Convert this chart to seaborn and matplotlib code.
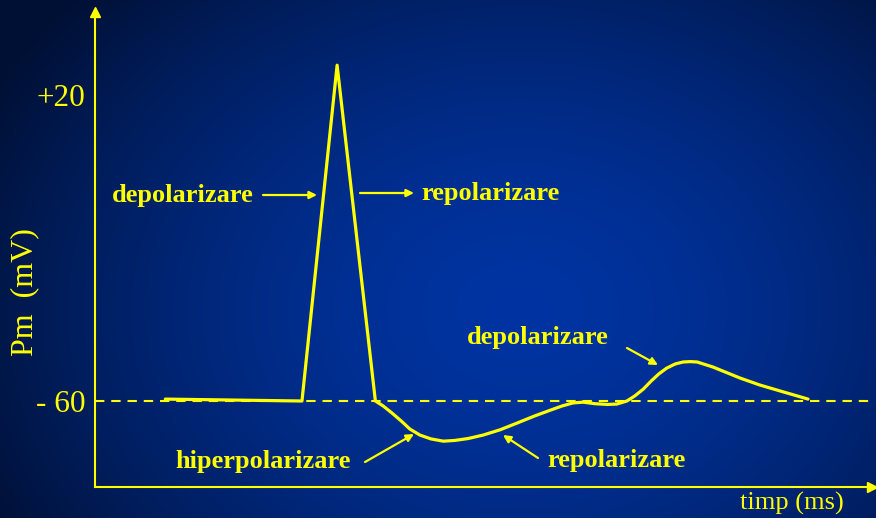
import numpy as np
import pandas as pd
import matplotlib
matplotlib.use("Agg")
import matplotlib.pyplot as plt
import seaborn as sns

# Membrane potential trace (time in arbitrary ms units, potential in mV)
time_ms = [0.90, 2.65, 3.10, 3.59, 3.69, 3.80, 3.92, 4.03, 4.16, 4.30, 4.46,
           4.61, 4.78, 4.97, 5.19, 5.40, 5.63, 5.83, 5.98, 6.12, 6.25, 6.40,
           6.56, 6.68, 6.81, 6.91, 7.02, 7.12, 7.22, 7.32, 7.43, 7.53, 7.62,
           7.71, 7.91, 8.26, 8.51, 8.81, 9.13]
pm_mv = [-59.5, -60.0, 27.8, -60.0, -61.3, -63.1, -65.2, -67.3, -68.9, -69.9,
         -70.5, -70.3, -69.8, -68.9, -67.5, -65.8, -63.9, -62.4, -61.3, -60.5,
         -60.3, -60.7, -60.9, -60.8, -60.0, -58.7, -56.9, -54.8, -52.9, -51.4,
         -50.3, -49.8, -49.7, -49.8, -51.1, -54.0, -55.8, -57.6, -59.5]

rest_mv = -60
tick_values = [20, -60]
tick_labels = ["+20", "- 60"]

YEL = "#ffff00"
SERIF = ["Liberation Serif", "DejaVu Serif"]

sns.set_theme(style="white")
plt.rcParams["font.family"] = SERIF

W, H = 876, 518
fig = plt.figure(figsize=(W / 100, H / 100), dpi=100)

# Background: radial blue gradient
bg = fig.add_axes([0, 0, 1, 1], zorder=0)
yy, xx = np.mgrid[0:H, 0:W]
d = np.sqrt(((xx - 520) / 600.0) ** 2 + ((yy - 310) / 470.0) ** 2)
d = np.clip(d, 0, 1) ** 1.6
center = np.array([0, 52, 162]) / 255.0
edge = np.array([0, 16, 52]) / 255.0
img = center[None, None, :] * (1 - d[..., None]) + edge[None, None, :] * d[..., None]
bg.imshow(img, aspect="auto", extent=[0, 1, 0, 1], origin="upper")
bg.set_axis_off()

# Plot area
left_px, right_px, bottom_px, top_px = 95, 876, 487, 12
ax = fig.add_axes([left_px / W, (H - bottom_px) / H,
                   (right_px - left_px) / W, (bottom_px - top_px) / H], zorder=1)
ax.patch.set_alpha(0)
ax.set_xlim(0, 10)
ax.set_ylim(-82.48, 41.70)

df = pd.DataFrame({"t": time_ms, "pm": pm_mv})
sns.lineplot(data=df, x="t", y="pm", ax=ax, sort=False, color=YEL,
             lw=2.3, solid_joinstyle="round", solid_capstyle="round")
ax.axhline(rest_mv, xmax=0.992, color=YEL, lw=1.5, ls=(0, (4.5, 3.3)))

for s in ["top", "right"]:
    ax.spines[s].set_visible(False)
for s in ["left", "bottom"]:
    ax.spines[s].set_color(YEL)
    ax.spines[s].set_linewidth(1.5)
ax.plot([0], [1], marker="^", ms=7, color=YEL, transform=ax.transAxes, clip_on=False)
ax.plot([0.995], [0], marker=">", ms=7, color=YEL, transform=ax.transAxes, clip_on=False)

ax.set_xticks([])
ax.set_yticks(tick_values)
ax.set_yticklabels(tick_labels, fontsize=22.5, color=YEL, family=SERIF)
ax.tick_params(axis="y", length=0, pad=7)
ax.set_xlabel("")
ax.set_ylabel("Pm  (mV)", fontsize=23, color=YEL, family=SERIF)
ax.yaxis.set_label_coords(-0.072, 0.41)

fig.text(792 / W, 1 - 503 / H, "timp (ms)", fontsize=19, color=YEL,
         family=SERIF, ha="center", va="center")


def px(x, y):
    return ((x - 95) / 78.1, -60 - (y - 401) / 3.825)


bold = dict(fontsize=19, color=YEL, fontweight="bold", family=SERIF, va="center")
arrow = dict(arrowstyle="-|>", color=YEL, lw=1.6, mutation_scale=11, shrinkA=0, shrinkB=0)

ax.text(*px(112, 195), "depolarizare", ha="left", **bold)
ax.annotate("", xy=px(317, 195), xytext=px(263, 195), arrowprops=arrow)
ax.annotate("", xy=px(414, 193), xytext=px(360, 193), arrowprops=arrow)
ax.text(*px(421, 193), "repolarizare", ha="left", **bold)

ax.text(*px(467, 337), "depolarizare", ha="left", **bold)
ax.annotate("", xy=px(658, 365), xytext=px(627, 348), arrowprops=arrow)

ax.text(*px(175, 461), "hiperpolarizare", ha="left", **bold)
ax.annotate("", xy=px(414, 434), xytext=px(365, 462), arrowprops=arrow)
ax.annotate("", xy=px(503, 435), xytext=px(538, 458), arrowprops=arrow)
ax.text(*px(547, 460), "repolarizare", ha="left", **bold)

fig.savefig("out.png", dpi=100)
